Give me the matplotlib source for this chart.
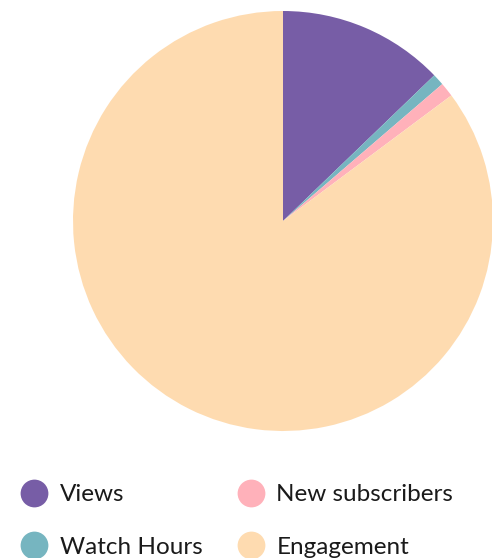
import matplotlib.pyplot as plt
from matplotlib.lines import Line2D

labels = ["Views", "Watch Hours", "New subscribers", "Engagement"]
values = [12.8, 0.9, 1.1, 85.2]
colors = ["#775DA6", "#76B5C0", "#FFB1BA", "#FEDBB0"]

plt.rcParams["font.family"] = ["Lato", "DejaVu Sans"]

W, H = 492, 558
fig = plt.figure(figsize=(W / 100, H / 100), dpi=100)

# pie box: centre (283, 221) px, radius 210 px
cx, cy, r = 283, 221, 210
ax = fig.add_axes([(cx - r) / W, (H - cy - r) / H, 2 * r / W, 2 * r / H])
ax.pie(values, colors=colors, startangle=90, counterclock=False, radius=1,
       wedgeprops=dict(linewidth=0))
ax.set_xlim(-1, 1)
ax.set_ylim(-1, 1)
ax.set_aspect("auto")
ax.axis("off")

handles = [Line2D([], [], marker="o", linestyle="none", markersize=20,
                  markerfacecolor=c, markeredgecolor="none") for c in colors]
fs = 17.5
fig.legend(handles, labels, loc="upper left", bbox_to_anchor=(20 / W, 1 - 484 / H),
           ncol=2, frameon=False, fontsize=fs, borderpad=0, borderaxespad=0,
           handlelength=1.15, handletextpad=0.49, columnspacing=1.4,
           labelspacing=1.3, labelcolor="#1a1a1a")

fig.savefig("out.png", dpi=100)
